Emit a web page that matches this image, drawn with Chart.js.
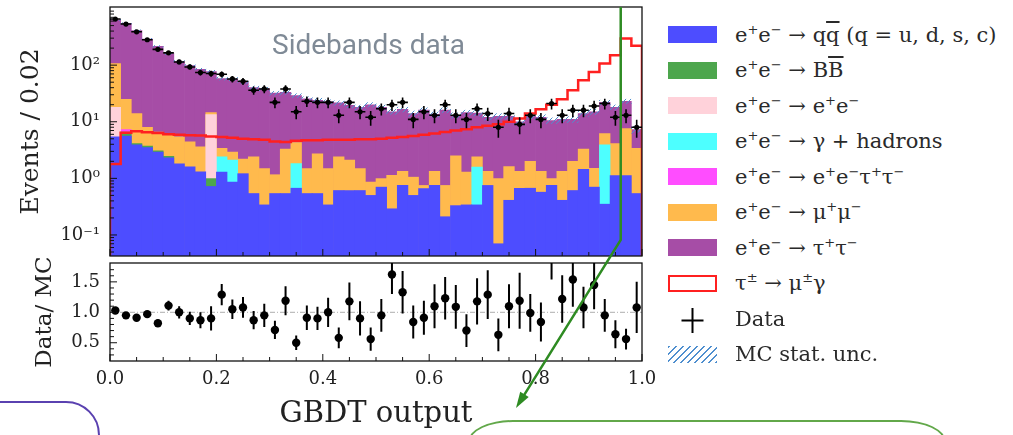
<!DOCTYPE html>
<html>
<head>
<meta charset="utf-8">
<script src="https://cdn.jsdelivr.net/npm/chart.js@4.4.1/dist/chart.umd.min.js"></script>
<style>
  body { margin: 0; background: #fff; width: 1013px; height: 435px; overflow: hidden; position: relative; }
  canvas { position: absolute; }
  #sideband { position: absolute; left: 272px; top: 31px; font: 28px/28px Roboto, sans-serif; color: #7f8a96; white-space: nowrap; }
  #legend { position: absolute; left: 668px; top: 17px; font: 21px "DejaVu Serif", serif; color: #2a2a2a; }
  #legend .row { height: 35.5px; display: flex; align-items: center; white-space: nowrap; }
  #legend .sw { width: 49px; height: 17px; margin-right: 18px; flex: none; box-sizing: border-box; }
  #legend sup { font-size: 0.62em; vertical-align: 0.6em; line-height: 0; }
  .ov { text-decoration: overline; }
  .box { position: absolute; box-sizing: border-box; }
  #boxPurple { left: -60px; top: 401px; width: 160px; height: 120px; border: 2px solid #5a41b0; border-radius: 34px; }
  #boxGreen { left: 468px; top: 420px; width: 478px; height: 80px; border: 2px solid #62a84a; border-radius: 45px / 22px; }
</style>
</head>
<body>
<canvas id="main" width="660" height="262" style="left:0;top:0"></canvas>
<canvas id="ratio" width="660" height="177" style="left:0;top:258px"></canvas>
<div id="sideband">Sidebands data</div>
<div id="legend">
  <div class="row"><span class="sw" style="background:#4d4dff"></span><span>e<sup>+</sup>e<sup>−</sup> → q<span class="ov">q</span> (q = u, d, s, c)</span></div>
  <div class="row"><span class="sw" style="background:#4da64d"></span><span>e<sup>+</sup>e<sup>−</sup> → B<span class="ov">B</span></span></div>
  <div class="row"><span class="sw" style="background:#ffd2da"></span><span>e<sup>+</sup>e<sup>−</sup> → e<sup>+</sup>e<sup>−</sup></span></div>
  <div class="row"><span class="sw" style="background:#4dffff"></span><span>e<sup>+</sup>e<sup>−</sup> → γ + hadrons</span></div>
  <div class="row"><span class="sw" style="background:#ff4dff"></span><span>e<sup>+</sup>e<sup>−</sup> → e<sup>+</sup>e<sup>−</sup>τ<sup>+</sup>τ<sup>−</sup></span></div>
  <div class="row"><span class="sw" style="background:#ffba4d"></span><span>e<sup>+</sup>e<sup>−</sup> → μ<sup>+</sup>μ<sup>−</sup></span></div>
  <div class="row"><span class="sw" style="background:#a64da6"></span><span>e<sup>+</sup>e<sup>−</sup> → τ<sup>+</sup>τ<sup>−</sup></span></div>
  <div class="row"><span class="sw" style="background:#fff;border:2.5px solid #ff2020"></span><span>τ<sup>±</sup> → μ<sup>±</sup>γ</span></div>
  <div class="row"><span class="sw"><svg width="49" height="17" style="overflow:visible"><path d="M13.5 8.5H35.5M24.5 -4V21" stroke="#000" stroke-width="2"/></svg></span><span>Data</span></div>
  <div class="row"><span class="sw" style="background:repeating-linear-gradient(-45deg,#4f8fcf 0 1.5px,transparent 1.5px 5px)"></span><span>MC stat. unc.</span></div>
</div>
<div class="box" id="boxPurple"></div>
<div class="box" id="boxGreen"></div>
<canvas id="overlay" width="1013" height="435" style="left:0;top:0;pointer-events:none"></canvas>
<script>
// GBDT output, 50 bins of 0.02
const binCenters = [0.01, 0.03, 0.05, 0.07, 0.09, 0.11, 0.13, 0.15, 0.17, 0.19,
  0.21, 0.23, 0.25, 0.27, 0.29, 0.31, 0.33, 0.35, 0.37, 0.39,
  0.41, 0.43, 0.45, 0.47, 0.49, 0.51, 0.53, 0.55, 0.57, 0.59,
  0.61, 0.63, 0.65, 0.67, 0.69, 0.71, 0.73, 0.75, 0.77, 0.79,
  0.81, 0.83, 0.85, 0.87, 0.89, 0.91, 0.93, 0.95, 0.97, 0.99];

// stacked MC, read as the top of each colour band (cumulative)
const qqTop = [5.4, 5.6, 3.9, 3.5, 2.9, 2.3, 1.8, 1.6, 1.3, 0.72,
  1.29, 0.86, 1.21, 0.54, 0.34, 0.54, 0.54, 0.67, 0.54, 0.54,
  0.34, 0.61, 0.61, 0.61, 0.5, 0.7, 0.29, 0.75, 0.5, 0.66,
  0.75, 0.21, 0.33, 0.34, 0.34, 0.75, 0.07, 0.41, 0.67, 0.67,
  0.57, 0.75, 0.41, 0.61, 1.45, 0.7, 0.35, 1.12, 1.12, 0.54];
const bbTop = [null, 6.6, 4.1, 3.7, 3.05, 2.45, null, null, null, 0.99,
  null, null, null, null, null, null, null, null, null, null,
  null, null, null, null, null, null, null, null, null, null,
  null, null, null, null, null, null, null, null, null, null,
  null, null, null, null, null, null, null, null, null, null];
const eeTop = [18, null, null, null, null, null, null, null, null, 13.4,
  null, null, null, null, null, null, null, null, null, null,
  null, null, null, null, null, null, null, null, null, null,
  null, null, null, null, null, null, null, null, null, null,
  null, null, null, null, null, null, null, null, null, null];
const gammaTop = [null, null, null, null, null, null, null, null, null, null,
  2.4, 2.1, null, null, null, null, null, 1.82, null, null,
  null, null, null, null, null, null, null, null, null, null,
  null, null, null, null, 1.58, null, null, null, null, null,
  null, null, null, null, null, null, 3.9, null, null, null];
const eettTop = [null, 7.3, null, null, null, null, null, null, null, null,
  null, null, null, null, null, null, null, null, null, null,
  null, null, null, null, null, null, null, null, null, null,
  null, null, null, null, null, null, null, null, null, null,
  null, null, null, null, null, null, null, null, null, null];
const mumuTop = [107, 25, 14, 8.0, 6.6, 6.1, 5.4, 4.4, 3.6, 14.5,
  3.4, 2.9, 2.2, 2.4, 1.49, 1.16, 3.3, 4.3, 1.49, 2.7,
  1.49, 2.4, 2.1, 1.49, 0.86, 0.99, 1.13, 1.33, 1.05, 0.75,
  1.33, 0.75, 2.5, 1.29, 2.4, 1.33, 0.99, 1.62, 1.33, 2.0,
  1.33, 0.99, 1.33, 2.0, 3.3, 1.5, 6.2, 4.1, 7.6, 3.4];
const tautauTop = [630, 550, 410, 290, 215, 160, 116, 98, 84, 77,
  58, 57, 50, 40, 38, 32, 33, 29, 25.5, 24,
  22.5, 21.5, 19.5, 18, 20, 18, 15, 16.5, 14, 16,
  13.5, 16, 13, 14.5, 14.2, 12, 12.5, 12.5, 10, 12.5,
  12, 10.5, 11, 11, 14, 15, 22, 18, 23, 7.3];
const mcStatErr = [14, 12, 10, 8, 7, 6, 5, 4.5, 4, 4,
  3.5, 3.5, 3.2, 2.8, 2.7, 2.4, 2.5, 2.3, 2.1, 2,
  1.9, 1.9, 1.8, 1.7, 1.8, 1.7, 1.5, 1.6, 1.5, 1.6,
  1.4, 1.6, 1.4, 1.5, 1.5, 1.3, 1.4, 1.4, 1.2, 1.4,
  1.3, 1.2, 1.3, 1.3, 1.5, 1.6, 2, 1.8, 2, 1.0];

// signal tau -> mu gamma (step outline)
const signal = [1.8, 6.4, 6.8, 6.5, 6.3, 6.0, 5.9, 5.8, 5.7, 5.5,
  5.4, 5.2, 5.0, 4.9, 4.8, 4.5, 4.4, 4.6, 4.7, 4.7,
  4.8, 4.8, 4.8, 4.9, 4.9, 5.0, 5.2, 5.4, 5.6, 5.9,
  6.2, 6.6, 7.0, 7.4, 8.0, 8.5, 9.0, 10, 11.4, 14,
  16.6, 20, 25, 36, 54, 76, 107, 150, 297, 220];

// sideband data
const dataCounts = [652, 532, 388, 281, 190, 165, 114, 93, 74, 71,
  69, 57, 52, 36, 38, 22, 38, 15, 23, 22,
  22, 13, 22, 15, 12, 17, 20, 22, 11, 15,
  13, 20, 13, 11, 17, 14, 8, 14, 9, 13,
  11, 21, 13, 16, 16, 19, 21, 12, 13, 8];
const dataErr = [25.5, 23, 19.7, 16.8, 13.8, 12.8, 10.7, 9.6, 8.6, 8.4,
  8.3, 7.5, 7.2, 6, 6.2, 4.7, 6.2, 3.9, 4.8, 4.7,
  4.7, 3.6, 4.7, 3.9, 3.5, 4.1, 4.5, 4.7, 3.3, 3.9,
  3.6, 4.5, 3.6, 3.3, 4.1, 3.7, 2.8, 3.7, 3, 3.6,
  3.3, 4.6, 3.6, 4, 4, 4.4, 4.6, 3.5, 3.6, 2.8];

// Data / MC
const ratio = [1.03, 0.95, 0.91, 0.97, 0.82, 1.11, 1.0, 0.9, 0.87, 0.9,
  1.29, 1.05, 1.08, 0.87, 0.95, 0.71, 1.19, 0.5, 0.91, 0.9,
  1.0, 0.58, 1.18, 0.9, 0.56, 0.95, 1.62, 1.33, 0.84, 0.91,
  1.1, 1.23, 1.09, 0.7, 1.18, 1.29, 0.63, 1.1, 1.19, 0.99,
  0.84, 2.0, 1.22, 1.54, 1.08, 1.45, 0.95, 0.64, 0.56, 1.08];
const ratioErr = [0.04, 0.04, 0.05, 0.05, 0.06, 0.08, 0.1, 0.11, 0.13, 0.2,
  0.175, 0.16, 0.17, 0.15, 0.19, 0.15, 0.24, 0.12, 0.2, 0.19,
  0.24, 0.17, 0.31, 0.28, 0.19, 0.27, 0.32, 0.35, 0.27, 0.28,
  0.36, 0.35, 0.36, 0.27, 0.38, 0.4, 0.27, 0.36, 0.46, 0.31,
  0.32, 0.46, 0.39, 0.45, 0.34, 0.4, 0.27, 0.23, 0.17, 0.42];

const CUT = 0.96;
const xMajor = [0, 0.2, 0.4, 0.6, 0.8, 1.0];
const xMinor = [0.05, 0.1, 0.15, 0.25, 0.3, 0.35, 0.45, 0.5, 0.55, 0.65, 0.7, 0.75, 0.85, 0.9, 0.95];
const logMajor = [0.1, 1, 10, 100];
const logLabels = ['10⁻¹', '10⁰', '10¹', '10²'];
const ratioMajor = [0.5, 1.0, 1.5];
const ratioMinor = [0.3, 0.4, 0.6, 0.7, 0.8, 0.9, 1.1, 1.2, 1.3, 1.4, 1.6, 1.7];

var logMinor = [];
for (var d = -2; d <= 3; d++) {
  for (var m = 2; m <= 9; m++) {
    var v = m * Math.pow(10, d);
    if (v > 0.0425 && v < 1065) logMinor.push(v);
  }
}

const serif = 'DejaVu Serif';

function pts(arr) {
  return binCenters.map(function (c, i) { return {x: c, y: arr[i]}; });
}

function histBar(label, arr, color) {
  return {
    type: 'bar', label: label, data: pts(arr), backgroundColor: color,
    borderWidth: 0, barPercentage: 1, categoryPercentage: 1, grouped: false, clip: 0
  };
}

// pin the axis boxes so the plot area sits where the reference has it
function fixY(s) { s.width = 110; s.paddingTop = 0; s.paddingBottom = 0; }
function fixX(s) { s.height = 74; s.paddingLeft = 0; s.paddingRight = 0; }

// inward ticks + frame, matplotlib style
const axisFrame = {
  id: 'axisFrame',
  afterDatasetsDraw: function (chart, args, o) {
    var ctx = chart.ctx, a = chart.chartArea, x = chart.scales.x, y = chart.scales.y;
    ctx.save();
    ctx.strokeStyle = '#111';
    ctx.lineWidth = 1;
    ctx.beginPath();
    xMajor.forEach(function (v) { var p = x.getPixelForValue(v); ctx.moveTo(p, a.bottom); ctx.lineTo(p, a.bottom - 7); });
    xMinor.forEach(function (v) { var p = x.getPixelForValue(v); ctx.moveTo(p, a.bottom); ctx.lineTo(p, a.bottom - 4); });
    o.yMajor.forEach(function (v) { var p = y.getPixelForValue(v); ctx.moveTo(a.left, p); ctx.lineTo(a.left + 7, p); });
    o.yMinor.forEach(function (v) { var p = y.getPixelForValue(v); ctx.moveTo(a.left, p); ctx.lineTo(a.left + 4, p); });
    ctx.stroke();
    ctx.lineWidth = 1.3;
    ctx.strokeRect(a.left, a.top, a.right - a.left, a.bottom - a.top);
    ctx.restore();
  }
};

const errorBars = {
  id: 'errorBars',
  beforeDatasetsDraw: function (chart, args, o) {
    if (!o.refLine) return;
    var ctx = chart.ctx, a = chart.chartArea, p = chart.scales.y.getPixelForValue(o.refLine);
    ctx.save();
    ctx.strokeStyle = '#999';
    ctx.lineWidth = 0.8;
    ctx.setLineDash([5, 2, 1, 2]);
    ctx.beginPath(); ctx.moveTo(a.left, p); ctx.lineTo(a.right, p); ctx.stroke();
    ctx.restore();
  },
  afterDatasetsDraw: function (chart, args, o) {
    var ctx = chart.ctx, a = chart.chartArea, x = chart.scales.x, y = chart.scales.y;
    ctx.save();
    ctx.beginPath();
    ctx.rect(a.left, a.top, a.right - a.left, a.bottom - a.top);
    ctx.clip();
    ctx.strokeStyle = '#000';
    ctx.lineWidth = o.width;
    ctx.beginPath();
    o.values.forEach(function (v, i) {
      var c = binCenters[i], e = o.errors[i];
      var px = x.getPixelForValue(c);
      ctx.moveTo(px, y.getPixelForValue(Math.max(v - e, 1e-4)));
      ctx.lineTo(px, y.getPixelForValue(v + e));
      if (o.halfWidth) {
        var py = y.getPixelForValue(v);
        ctx.moveTo(x.getPixelForValue(c - o.halfWidth), py);
        ctx.lineTo(x.getPixelForValue(c + o.halfWidth), py);
      }
    });
    ctx.stroke();
    ctx.restore();
  }
};

// hatch for MC stat. unc.
var pc = document.createElement('canvas');
pc.width = 5; pc.height = 5;
var pctx = pc.getContext('2d');
pctx.strokeStyle = '#4f8fcf';
pctx.lineWidth = 1;
pctx.beginPath();
pctx.moveTo(0, 5); pctx.lineTo(5, 0);
pctx.moveTo(-1, 1); pctx.lineTo(1, -1);
pctx.moveTo(4, 6); pctx.lineTo(6, 4);
pctx.stroke();
var hatch = document.getElementById('main').getContext('2d').createPattern(pc, 'repeat');

var sigSteps = [{x: 0, y: 1e-3}]
  .concat(signal.map(function (v, i) { return {x: binCenters[i] - 0.01, y: v}; }))
  .concat([{x: 1, y: signal[signal.length - 1]}, {x: 1, y: 1e-3}]);

var mcBand = binCenters.map(function (c, i) {
  return {x: c, y: [tautauTop[i] - mcStatErr[i], tautauTop[i] + mcStatErr[i]]};
});

var main = new Chart(document.getElementById('main'), {
  type: 'bar',
  data: {
    datasets: [
      {type: 'scatter', label: 'Data', data: pts(dataCounts), pointRadius: 2.6, pointBackgroundColor: '#000', pointBorderWidth: 0, clip: 0},
      {type: 'line', label: 'signal', data: sigSteps, stepped: 'before', borderColor: '#ff2020', borderWidth: 2.5, pointRadius: 0, fill: false, clip: 0},
      {type: 'bar', label: 'MC stat. unc.', data: mcBand, backgroundColor: hatch, borderWidth: 0, barPercentage: 1, categoryPercentage: 1, grouped: false, clip: 0},
      histBar('qq', qqTop, '#4d4dff'),
      histBar('BB', bbTop, '#4da64d'),
      histBar('ee', eeTop, '#ffd2da'),
      histBar('gamma', gammaTop, '#4dffff'),
      histBar('eetautau', eettTop, '#ff4dff'),
      histBar('mumu', mumuTop, '#ffba4d'),
      histBar('tautau', tautauTop, '#a64da6')
    ]
  },
  options: {
    responsive: false,
    animation: false,
    events: [],
    layout: {padding: {left: 0, right: 18, top: 7, bottom: 6}},
    plugins: {
      legend: {display: false},
      tooltip: {enabled: false},
      axisFrame: {yMajor: logMajor, yMinor: logMinor},
      errorBars: {values: dataCounts, errors: dataErr, halfWidth: 0.01, width: 1.6}
    },
    scales: {
      x: {type: 'linear', min: 0, max: 1, offset: false, display: false},
      y: {
        type: 'logarithmic', min: 0.0425, max: 1065,
        afterFit: fixY,
        afterBuildTicks: function (s) { s.ticks = logMajor.map(function (v) { return {value: v}; }); },
        grid: {display: false, drawTicks: false},
        border: {display: false},
        ticks: {
          padding: 10, color: '#222', font: {family: serif, size: 18},
          callback: function (v) { var k = logMajor.indexOf(v); return k < 0 ? '' : logLabels[k]; }
        },
        title: {display: true, text: 'Events / 0.02', color: '#222', font: {family: serif, size: 25}, padding: {top: 16, bottom: 0}}
      }
    }
  },
  plugins: [axisFrame, errorBars]
});

var ratioChart = new Chart(document.getElementById('ratio'), {
  type: 'scatter',
  data: {
    datasets: [
      {label: 'Data/MC', data: pts(ratio), pointRadius: 4.2, pointBackgroundColor: '#000', pointBorderWidth: 0, clip: 0}
    ]
  },
  options: {
    responsive: false,
    animation: false,
    events: [],
    layout: {padding: {left: 0, right: 18, top: 5, bottom: 0}},
    plugins: {
      legend: {display: false},
      tooltip: {enabled: false},
      axisFrame: {yMajor: ratioMajor, yMinor: ratioMinor},
      errorBars: {values: ratio, errors: ratioErr, halfWidth: 0, width: 2, refLine: 1.0}
    },
    scales: {
      x: {
        type: 'linear', min: 0, max: 1, offset: false,
        afterFit: fixX,
        afterBuildTicks: function (s) { s.ticks = xMajor.map(function (v) { return {value: v}; }); },
        grid: {display: false, drawTicks: false},
        border: {display: false},
        ticks: {padding: 8, maxRotation: 0, color: '#222', font: {family: serif, size: 18}, callback: function (v) { return v.toFixed(1); }},
        title: {display: true, text: 'GBDT output', color: '#222', font: {family: serif, size: 29}, padding: {top: 0, bottom: 3}}
      },
      y: {
        min: 0.2, max: 1.81,
        afterFit: fixY,
        afterBuildTicks: function (s) { s.ticks = ratioMajor.map(function (v) { return {value: v}; }); },
        grid: {display: false, drawTicks: false},
        border: {display: false},
        ticks: {padding: 10, color: '#222', font: {family: serif, size: 18}, callback: function (v) { return v.toFixed(1); }},
        title: {display: true, text: 'Data/ MC', color: '#222', font: {family: serif, size: 23}, padding: {top: 31, bottom: 0}}
      }
    }
  },
  plugins: [axisFrame, errorBars]
});

// cut line at GBDT = 0.96 and the arrow leading out of the plot
var ov = document.getElementById('overlay').getContext('2d');
var cutX = main.scales.x.getPixelForValue(CUT);
var bendY = 240, tipX = 516, tipY = 408;
ov.strokeStyle = '#2e8b22';
ov.fillStyle = '#2e8b22';
ov.lineWidth = 2.5;
ov.beginPath();
ov.moveTo(cutX, main.chartArea.top);
ov.lineTo(cutX, bendY);
var ang = Math.atan2(tipY - bendY, tipX - cutX);
ov.lineTo(tipX - 12 * Math.cos(ang), tipY - 12 * Math.sin(ang));
ov.stroke();
ov.beginPath();
ov.moveTo(tipX, tipY);
ov.lineTo(tipX - 16 * Math.cos(ang) + 5 * Math.sin(ang), tipY - 16 * Math.sin(ang) - 5 * Math.cos(ang));
ov.lineTo(tipX - 16 * Math.cos(ang) - 5 * Math.sin(ang), tipY - 16 * Math.sin(ang) + 5 * Math.cos(ang));
ov.closePath();
ov.fill();
</script>
</body>
</html>
